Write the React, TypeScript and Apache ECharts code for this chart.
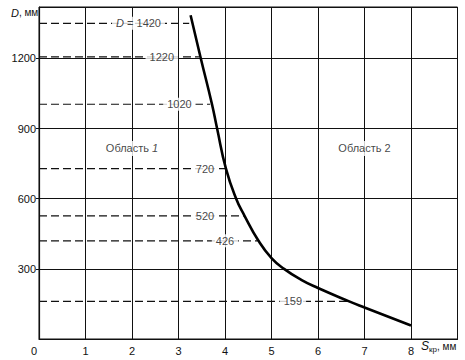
import React, { useEffect, useRef } from "react";
import * as echarts from "echarts";

// Main curve: S_kr (mm) vs D (mm)
const curveS = [3.26, 3.48, 3.72, 3.83, 4.02, 4.24, 4.42, 4.72, 5.0, 5.27, 5.64, 6.0, 6.67, 7.0, 8.0];
const curveD = [1385, 1200, 1004, 900, 729, 600, 527, 420, 346, 300, 253, 218, 161, 135, 58];

// Dashed reference lines (drawn level, end x, label text, label x)
const refLevels = [1350, 1207, 1004, 729, 527, 420, 161];
const refEnds = [3.23, 3.44, 3.68, 4.0, 4.41, 4.7, 6.67];
const refLabels = ["{i|D} = 1420", "1220", "1020", "720", "520", "426", "159"];
const refLabelX = [2.14, 2.64, 3.02, 3.57, 3.57, 4.0, 5.46];

// Region labels
const regionNames = ["Область {i|1}", "Область 2"];
const regionX = [2, 7];
const regionY = [815, 815];

const FONT = "Liberation Sans, Arial, Helvetica, sans-serif";
const INK = "#111111";

export default function App() {
  const ref = useRef<HTMLDivElement>(null);
  useEffect(() => {
    document.body.style.margin = "0";
    const chart = echarts.init(ref.current!, null, { renderer: "svg" });
    const rich = {
      i: { fontStyle: "italic", fontFamily: FONT, fontSize: 11, color: INK, textBorderWidth: 0 },
    };
    const series: any[] = [];
    refLevels.forEach((lv, k) => {
      series.push({
        type: "line",
        data: [
          [0, lv],
          [refEnds[k], lv],
        ],
        symbol: "none",
        silent: true,
        lineStyle: { color: INK, width: 1.2, type: [8, 4] },
        z: 3,
      });
    });
    series.push({
      type: "line",
      data: curveS.map((s, k) => [s, curveD[k]]),
      symbol: "none",
      smooth: 0.5,
      lineStyle: { color: "#000", width: 2.6 },
      z: 6,
    });
    const labelStyle = {
      show: true,
      position: [0, 0],
      align: "center",
      verticalAlign: "middle",
      formatter: (p: any) => p.name,
      fontFamily: FONT,
      fontSize: 11,
      color: INK,
      textBorderWidth: 0,
      textBorderColor: "transparent",
      textShadowBlur: 0,
      backgroundColor: "#fff",
      rich,
    };
    series.push({
      type: "scatter",
      symbolSize: 0,
      silent: true,
      itemStyle: { color: INK },
      data: refLevels.map((lv, k) => ({ value: [refLabelX[k], lv], name: refLabels[k] })),
      label: { ...labelStyle, padding: [1, 4] },
      z: 5,
    });
    series.push({
      type: "scatter",
      symbolSize: 0,
      silent: true,
      itemStyle: { color: INK },
      data: regionNames.map((n, k) => ({ value: [regionX[k], regionY[k]], name: n })),
      label: { ...labelStyle, padding: [2, 3] },
      z: 5,
    });

    chart.setOption({
      animation: false,
      textStyle: { fontFamily: FONT },
      grid: {
        left: 39,
        right: 7.5,
        top: 7,
        bottom: 21,
        show: true,
        borderColor: INK,
        borderWidth: 1,
        backgroundColor: "#fff",
      },
      xAxis: {
        type: "value",
        min: 0,
        max: 9,
        interval: 1,
        axisLine: { show: true, lineStyle: { color: INK, width: 1.2 } },
        axisTick: { show: false },
        splitLine: { show: true, lineStyle: { color: INK, width: 1 } },
        axisLabel: {
          fontFamily: FONT,
          fontSize: 11,
          color: INK,
          margin: 6,
          formatter: (v: number) => (v === 9 ? "" : v === 0 ? "{z|0}" : String(v)),
          rich: { z: { fontFamily: FONT, fontSize: 11, color: INK, padding: [0, 10, 0, 0] } },
        },
      },
      yAxis: {
        type: "value",
        min: 0,
        max: 1420,
        interval: 300,
        axisLine: { show: true, lineStyle: { color: INK, width: 1.2 } },
        axisTick: { show: true, length: 3, lineStyle: { color: INK } },
        splitLine: { show: true, lineStyle: { color: INK, width: 1 } },
        axisLabel: {
          fontFamily: FONT,
          fontSize: 11,
          color: INK,
          margin: 3,
          showMinLabel: false,
          showMaxLabel: false,
          formatter: (v: number) => String(v),
        },
      },
      graphic: [
        {
          type: "text",
          left: 11,
          top: 7,
          style: {
            text: "{i|D}, мм",
            fontFamily: FONT,
            fontSize: 10,
            fill: INK,
            rich: { i: { fontStyle: "italic", fontFamily: FONT, fontSize: 11, fill: INK } },
          },
        },
        {
          type: "text",
          left: 421,
          top: 340,
          style: {
            text: "{i|S}{s|кр}{n|, мм}",
            fontFamily: FONT,
            fill: INK,
            rich: {
              i: { fontStyle: "italic", fontFamily: FONT, fontSize: 12, fill: INK },
              s: { fontFamily: FONT, fontSize: 8, fill: INK, verticalAlign: "bottom", padding: [6, 0, 0, 0] },
              n: { fontFamily: FONT, fontSize: 10, fill: INK },
            },
          },
        },
      ],
      series,
    });
    return () => chart.dispose();
  }, []);
  return <div ref={ref} style={{ width: 465, height: 360 }} />;
}
